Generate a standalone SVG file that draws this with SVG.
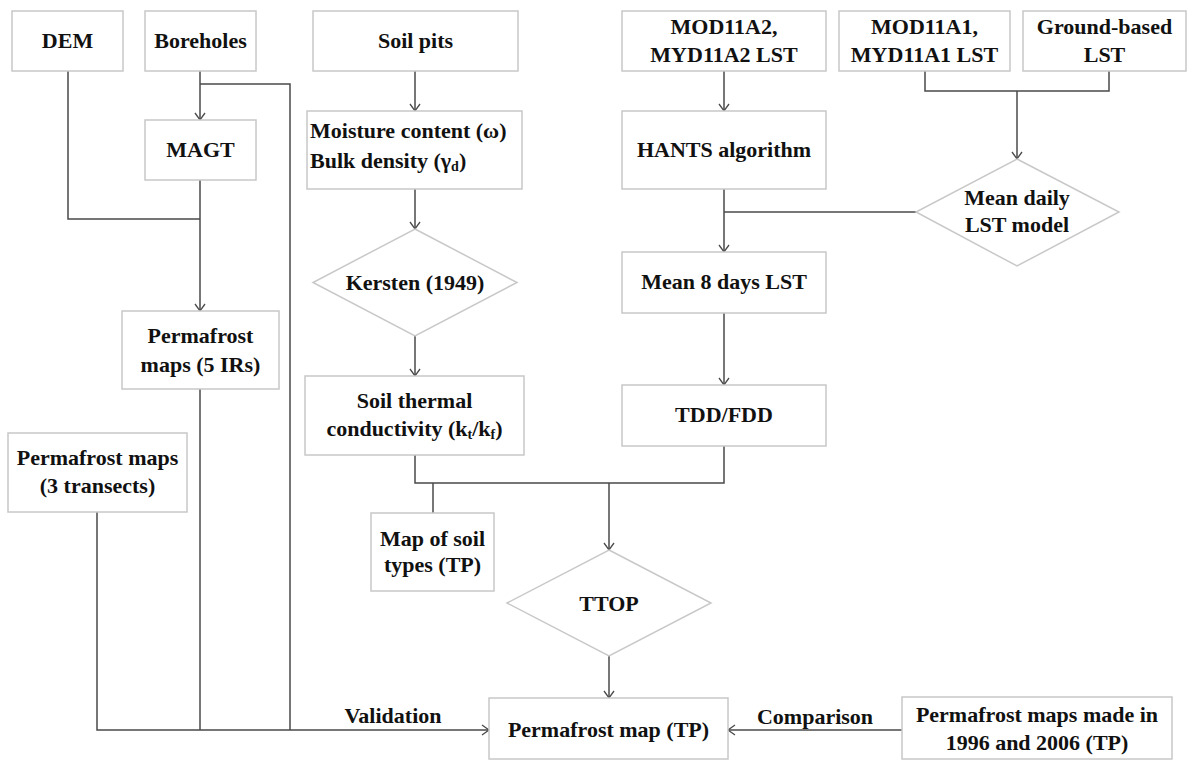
<svg xmlns="http://www.w3.org/2000/svg" width="1187" height="760" viewBox="0 0 1187 760">
<style>
.box{fill:#fff;stroke:#c8c8c8;stroke-width:1.5}
.t{font-family:"Liberation Serif","Times New Roman",serif;font-weight:bold;font-size:22px;fill:#111;text-anchor:middle}
.s{text-anchor:start}
.c{fill:none;stroke:#4a4a4a;stroke-width:1.5}
.sub{font-size:14px}
</style>
<defs>
<marker id="arr" markerWidth="14" markerHeight="12" refX="10" refY="6" orient="auto" markerUnits="userSpaceOnUse">
<path d="M3,1 L10,6 L3,11" fill="none" stroke="#4a4a4a" stroke-width="1.3"/>
</marker>
</defs>
<rect width="1187" height="760" fill="#fff"/>
<g id="connectors">
<path class="c" d="M68,71 V219 H200"/>
<path class="c" d="M200,71 V120" marker-end="url(#arr)"/>
<path class="c" d="M200,84 H290 V730"/>
<path class="c" d="M200,180 V311" marker-end="url(#arr)"/>
<path class="c" d="M200,389 V730"/>
<path class="c" d="M97,512 V730 H489" marker-end="url(#arr)"/>
<path class="c" d="M415,71 V111" marker-end="url(#arr)"/>
<path class="c" d="M415,189 V229" marker-end="url(#arr)"/>
<path class="c" d="M415,336 V376" marker-end="url(#arr)"/>
<path class="c" d="M415,455 V483 H724 V446"/>
<path class="c" d="M433,483 V513"/>
<path class="c" d="M609,483 V550" marker-end="url(#arr)"/>
<path class="c" d="M609,656 V698" marker-end="url(#arr)"/>
<path class="c" d="M724,71 V111" marker-end="url(#arr)"/>
<path class="c" d="M724,189 V252" marker-end="url(#arr)"/>
<path class="c" d="M916,212 H724"/>
<path class="c" d="M925,71 V91 H1109 V71"/>
<path class="c" d="M1017,91 V159" marker-end="url(#arr)"/>
<path class="c" d="M724,313 V385" marker-end="url(#arr)"/>
<path class="c" d="M902,730 H728" marker-end="url(#arr)"/>
</g>
<g id="dem"><rect class="box" x="12" y="11" width="111" height="60"/><text class="t" x="67.5" y="48">DEM</text></g>
<g id="boreholes"><rect class="box" x="145" y="11" width="111" height="60"/><text class="t" x="200.5" y="48">Boreholes</text></g>
<g id="soilpits"><rect class="box" x="313" y="11" width="205" height="60"/><text class="t" x="415.5" y="48">Soil pits</text></g>
<g id="mod11a2"><rect class="box" x="622" y="11" width="204" height="60"/><text class="t" x="724" y="34">MOD11A2,</text><text class="t" x="724" y="62">MYD11A2 LST</text></g>
<g id="mod11a1"><rect class="box" x="839" y="11" width="171" height="60"/><text class="t" x="924.5" y="34">MOD11A1,</text><text class="t" x="924.5" y="62">MYD11A1 LST</text></g>
<g id="ground"><rect class="box" x="1023" y="11" width="163" height="60"/><text class="t" x="1104.5" y="34">Ground-based</text><text class="t" x="1104.5" y="62">LST</text></g>
<g id="magt"><rect class="box" x="145" y="120" width="111" height="60"/><text class="t" x="200.5" y="157">MAGT</text></g>
<g id="moisture"><rect class="box" x="307" y="111" width="215" height="78"/><text class="t s" x="310" y="138">Moisture content (ω)</text><text class="t s" x="310" y="168">Bulk density (γ<tspan class="sub" dy="3">d</tspan><tspan dy="-3">)</tspan></text></g>
<g id="hants"><rect class="box" x="622" y="111" width="204" height="78"/><text class="t" x="724" y="157">HANTS algorithm</text></g>
<g id="kersten"><polygon class="box" points="415,229 517,282.5 415,336 313,282.5"/><text class="t" x="415" y="290">Kersten (1949)</text></g>
<g id="meandaily"><polygon class="box" points="1017,159 1119,212 1017,266 916,212"/><text class="t" x="1017" y="205">Mean daily</text><text class="t" x="1017" y="232">LST model</text></g>
<g id="mean8"><rect class="box" x="622" y="252" width="204" height="61"/><text class="t" x="724" y="289">Mean 8 days LST</text></g>
<g id="pf5"><rect class="box" x="122" y="311" width="157" height="78"/><text class="t" x="200.5" y="343">Permafrost</text><text class="t" x="200.5" y="372">maps (5 IRs)</text></g>
<g id="tdd"><rect class="box" x="622" y="385" width="204" height="61"/><text class="t" x="724" y="422">TDD/FDD</text></g>
<g id="soilthermal"><rect class="box" x="305" y="376" width="219" height="79"/><text class="t" x="414.5" y="408">Soil thermal</text><text class="t" x="414.5" y="436">conductivity (k<tspan class="sub" dy="3">t</tspan><tspan dy="-3">/k</tspan><tspan class="sub" dy="3">f</tspan><tspan dy="-3">)</tspan></text></g>
<g id="pf3"><rect class="box" x="8" y="433" width="179" height="79"/><text class="t" x="97.5" y="465">Permafrost maps</text><text class="t" x="97.5" y="493">(3 transects)</text></g>
<g id="mapsoil"><rect class="box" x="371" y="513" width="123" height="78"/><text class="t" x="432.5" y="546">Map of soil</text><text class="t" x="432.5" y="572">types (TP)</text></g>
<g id="ttop"><polygon class="box" points="609,550 711,603 609,656 507,603"/><text class="t" x="609" y="611">TTOP</text></g>
<g id="pfmap"><rect class="box" x="489" y="698" width="239" height="61"/><text class="t" x="608.5" y="737">Permafrost map (TP)</text></g>
<g id="pfold"><rect class="box" x="902" y="697" width="270" height="62"/><text class="t" x="1037" y="722">Permafrost maps made in</text><text class="t" x="1037" y="750">1996 and 2006 (TP)</text></g>
<g id="labels"><text class="t" x="393" y="723">Validation</text><text class="t" x="815" y="724">Comparison</text></g>
</svg>
